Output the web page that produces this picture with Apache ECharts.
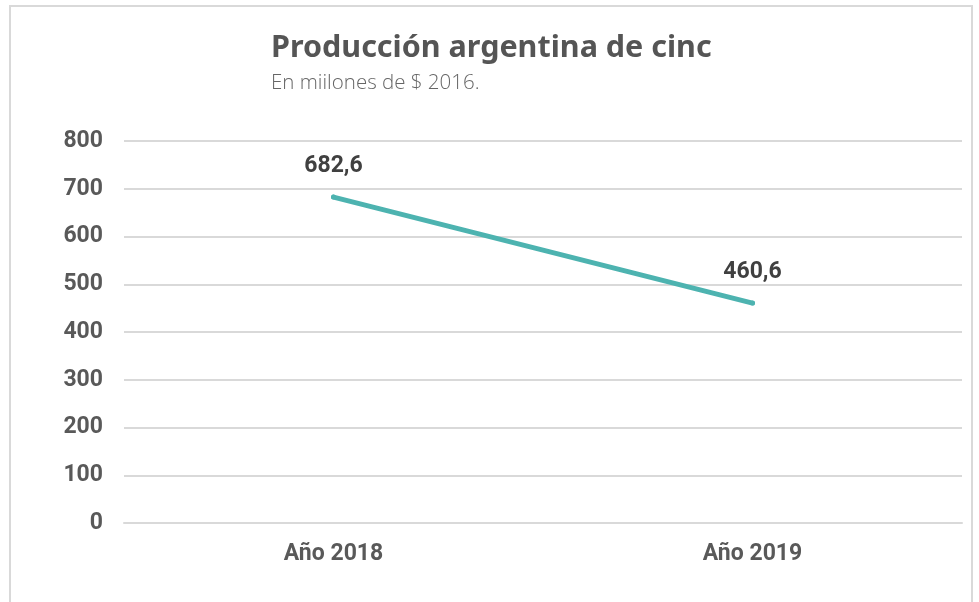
<!DOCTYPE html>
<html>
<head>
<meta charset="utf-8">
<title>Producción argentina de cinc</title>
<script src="https://cdn.jsdelivr.net/npm/echarts@6/dist/echarts.min.js"></script>
<style>
  html, body { margin: 0; padding: 0; background: #fff; }
  #frame {
    position: absolute; left: 9px; top: 5px; width: 964px; height: 610px;
    border: 2px solid #d9d9d9; border-bottom: none; box-sizing: border-box;
  }
  #chart { position: absolute; left: 0; top: 0; width: 979px; height: 602px; }
</style>
</head>
<body>
<div id="frame"></div>
<div id="chart"></div>
<script>
const years = ['Año 2018', 'Año 2019'];
const production = [682.6, 460.6];
const yTicks = [0, 100, 200, 300, 400, 500, 600, 700, 800];

const myChart = echarts.init(document.getElementById('chart'));

const option = {
  animation: false,
  title: {
    text: 'Producción argentina de cinc',
    subtext: 'En miilones de $ 2016.',
    left: 266,
    top: 28,
    itemGap: 9,
    textStyle: {
      fontFamily: 'Noto Sans',
      fontWeight: 'bold',
      fontSize: 30.5,
      color: '#555555'
    },
    subtextStyle: {
      fontFamily: 'Open Sans',
      fontWeight: 300,
      fontSize: 20.5,
      color: '#666666'
    }
  },
  grid: {
    left: 124,
    right: 17,
    top: 141,
    bottom: 79
  },
  xAxis: {
    type: 'category',
    data: years,
    axisLine: { show: true, lineStyle: { color: '#d9d9d9', width: 2 } },
    axisTick: { show: false },
    axisLabel: {
      margin: 20,
      fontFamily: 'Roboto',
      fontWeight: 'bold',
      fontSize: 23,
      color: '#595959'
    }
  },
  yAxis: {
    type: 'value',
    min: yTicks[0],
    max: yTicks[yTicks.length - 1],
    interval: 100,
    axisLine: { show: false },
    axisTick: { show: false },
    splitLine: { lineStyle: { color: '#d9d9d9', width: 2 } },
    axisLabel: {
      margin: 21,
      fontFamily: 'Roboto',
      fontWeight: 'bold',
      fontSize: 23,
      color: '#595959'
    }
  },
  series: [
    {
      name: 'Producción',
      type: 'line',
      data: production,
      symbol: 'circle',
      symbolSize: 5,
      itemStyle: { color: '#4db3b0' },
      lineStyle: { color: '#4db3b0', width: 5, cap: 'round' },
      label: {
        show: true,
        position: 'top',
        distance: 17,
        fontFamily: 'Roboto',
        fontWeight: 'bold',
        fontSize: 23,
        color: '#404040',
        formatter: p => String(p.value).replace('.', ',')
      }
    }
  ]
};

myChart.setOption(option);
</script>
</body>
</html>
